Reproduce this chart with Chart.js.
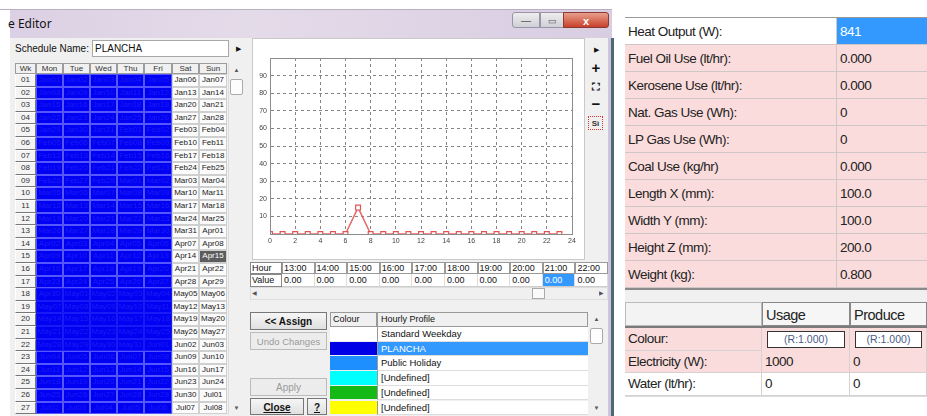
<!DOCTYPE html>
<html>
<head>
<meta charset="utf-8">
<script src="https://cdn.jsdelivr.net/npm/chart.js@4.4.1/dist/chart.umd.min.js"></script>
<style>
body{margin:0;width:927px;height:416px;overflow:hidden;background:#fff;position:relative;font-family:"Liberation Sans",Arial,sans-serif;color:#111}
.a{position:absolute;box-sizing:border-box;white-space:nowrap;overflow:hidden}
#chartBox{position:absolute;left:252px;top:38px;width:333px;height:222px;background:#fff;border:1px solid #c9c9c9;box-sizing:border-box}
#profileChart{position:absolute;left:252px;top:40px}
</style>
</head>
<body>

<!-- chart data -->
<script>
const hours = [0,1,2,3,4,5,6,7,8,9,10,11,12,13,14,15,16,17,18,19,20,21,22,23];
const profile = [0,0,0,0,0,0,0,15,0,0,0,0,0,0,0,0,0,0,0,0,0,0,0,0];
const xLabels = [0,2,4,6,8,10,12,14,16,18,20,22,24];
const yLabels = [10,20,30,40,50,60,70,80,90];
const tableHours = [13,14,15,16,17,18,19,20,21,22];
</script>

<div id="ui"></div>
<div id="chartBox"></div>
<canvas id="profileChart" width="332" height="220"></canvas>

<script>
const ui = document.getElementById("ui");

function box(x, y, w, h, css, text) {
  const d = document.createElement("div");
  d.className = "a";
  d.style.cssText = `left:${x}px;top:${y}px;width:${w}px;height:${h}px;line-height:${h}px;` + (css || "");
  if (text !== undefined) d.textContent = text;
  ui.appendChild(d);
  return d;
}

// ---- left window frame ----
box(0, 9, 612, 1, "background:#b8b0c0");
box(10, 10, 602, 28, "background:linear-gradient(90deg,#dcd0e4,#e4dbe9 40%,#d9cde2);");
box(8, 12, 80, 24, "font-family:'Noto Sans',sans-serif;font-size:12px;color:#111", "e Editor");
box(512, 12, 28, 16, "background:linear-gradient(#eee,#cfcfd8);border:1px solid #9a94a6;border-radius:3px 0 0 3px;text-align:center;font-size:10px;color:#555", "—");
box(540, 12, 24, 16, "background:linear-gradient(#eee,#cfcfd8);border:1px solid #9a94a6;text-align:center;font-size:9px;color:#555", "▭");
box(563, 12, 46, 16, "background:linear-gradient(#e8a08c,#c9402c);border:1px solid #8a3a30;border-radius:0 3px 3px 0;text-align:center;font-size:11px;color:#fff;font-weight:bold", "x");
box(10, 38, 601, 378, "background:#f0f0f0;border-right:3px solid #cfc5da");
box(611, 38, 3, 378, "background:#4a6a78");

// ---- schedule name ----
box(15, 41, 80, 16, "font-size:10px", "Schedule Name:");
box(92, 40, 137, 17, "background:#fff;border:1px solid #a8a8a8;font-size:10px;padding-left:2px;line-height:15px", "PLANCHA");
box(233, 41, 10, 16, "font-size:7px;text-align:center", "▶");

// ---- week grid ----
const colX = [15, 36, 63, 90, 117, 144, 172, 199, 227];
const heads = ["Wk", "Mon", "Tue", "Wed", "Thu", "Fri", "Sat", "Sun"];
heads.forEach((t, i) => {
  box(colX[i], 63, colX[i + 1] - colX[i], 11, "background:#f0f0f0;border:1px solid #9c9c9c;font-size:8px;text-align:center;color:#333;line-height:9px", t);
});
const months = ["Jan","Feb","Mar","Apr","May","Jun","Jul","Aug","Sep","Oct","Nov","Dec"];
const rowH = 12.6;
for (let w = 0; w < 27; w++) {
  const y = 74 + w * rowH;
  box(colX[0], y, colX[1] - colX[0], rowH, "background:#f4f4f4;border:1px solid;border-color:#fff #777 #777 #fff;font-size:8px;text-align:center;color:#333;line-height:10px", String(w + 1).padStart(2, "0"));
  for (let d = 0; d < 7; d++) {
    const dt = new Date(Date.UTC(2018, 0, 1 + w * 7 + d));
    const label = months[dt.getUTCMonth()] + String(dt.getUTCDate()).padStart(2, "0");
    const x = colX[d + 1], cw = colX[d + 2] - colX[d + 1];
    if (d < 5) {
      const merged = w >= 17 && w <= 21;
      box(x, y, cw, rowH, `background:#0000f2;border:1px solid ${merged ? "#1a1af6" : "#5656ff"};font-size:8px;text-align:center;color:#1c1cf6;line-height:10px`, label);
    } else {
      const sel = w === 14 && d === 6;
      box(x, y, cw, rowH, `background:${sel ? "#5c5c5c" : "#fbfbfb"};border:1px solid #cfcfcf;font-size:8px;text-align:center;color:${sel ? "#fff" : "#222"};line-height:10px`, label);
    }
  }
}
box(228, 63, 17, 352, "background:#f0f0f0;border-left:1px solid #ddd");
box(229, 64, 15, 12, "font-size:6px;text-align:center;color:#555", "▲");
box(230, 79, 13, 16, "background:#fdfdfd;border:1px solid #aaa;border-radius:2px");
box(229, 402, 15, 12, "font-size:6px;text-align:center;color:#555", "▼");

// ---- chart side icons + texts ----
box(590, 44, 12, 12, "font-size:7px;text-align:center", "▶");
box(588, 59, 16, 18, "font-size:15px;font-weight:bold;text-align:center", "+");
box(589, 80, 14, 14, "font-size:11px;font-weight:bold;text-align:center", "⛶");
box(588, 95, 16, 18, "font-size:15px;font-weight:bold;text-align:center", "−");
box(588, 116, 15, 14, "font-size:8px;font-weight:bold;text-align:center;color:#333;border:1px dotted #d33", "Sì");
box(256, 43, 10, 10, "font-size:7px;color:#333", "%");
box(270, 40, 150, 12, "font-size:7px;color:#333", "Hourly Operational Profile");
box(470, 40, 102, 12, "font-size:7px;color:#333;text-align:right", "PLANCHA");

// ---- hour / value grid ----
box(250, 262, 32, 12, "background:#fff;border:1px solid #888;font-size:9px;padding-left:1px;line-height:10px", "Hour");
box(250, 274, 32, 13, "background:#fff;border:1px solid #888;font-size:9px;padding-left:1px;line-height:11px", "Value");
tableHours.forEach((h, i) => {
  const x = 282 + i * 32.6;
  const w = Math.min(32.6, 608 - x);
  box(x, 262, w, 12, "background:#fff;border:1px solid #999;font-size:9px;padding-left:1px;line-height:10px", String(h).padStart(2, "0") + ":00");
  const hl = i === 8;
  box(x, 274, w, 13, `background:${hl ? "#3399ff" : "#fff"};border-right:1px solid #ddd;border-bottom:1px solid #ccc;font-size:9px;padding-left:2px;line-height:12px;color:${hl ? "#fff" : "#111"}`, profile[h].toFixed(2));
});
box(250, 287, 358, 13, "background:#f0f0f0;border:1px solid #ddd");
box(252, 287, 8, 13, "font-size:6px;color:#555;line-height:13px", "◀");
box(599, 287, 8, 13, "font-size:6px;color:#555;line-height:13px", "▶");
box(532, 288, 13, 11, "background:#fafafa;border:1px solid #aaa");

// ---- buttons ----
box(250, 312, 77, 18, "background:linear-gradient(#f6f6f6,#e0e0e0);border:1px solid #777;text-align:center;font-size:10px;font-weight:bold", "<< Assign");
box(250, 332, 77, 18, "background:#ececec;border:1px solid #bbb;text-align:center;font-size:9.5px;color:#9a9a9a", "Undo Changes");
box(250, 378, 77, 18, "background:#ececec;border:1px solid #bbb;text-align:center;font-size:10px;color:#9a9a9a", "Apply");
box(250, 398, 54, 17, "background:linear-gradient(#f6f6f6,#e0e0e0);border:1px solid #777;text-align:center;font-size:10px;font-weight:bold;text-decoration:underline", "Close");
box(307, 398, 20, 17, "background:linear-gradient(#f6f6f6,#e0e0e0);border:1px solid #777;text-align:center;font-size:10px;font-weight:bold;text-decoration:underline", "?");

// ---- profile list ----
box(330, 312, 47, 15, "background:#f0f0f0;border:1px solid #999;font-size:9px;padding-left:2px;line-height:13px", "Colour");
box(377, 312, 211, 15, "background:#f0f0f0;border:1px solid #999;font-size:9px;padding-left:3px;line-height:13px", "Hourly Profile");
const listNames = ["Standard Weekday", "PLANCHA", "Public Holiday", "[Undefined]", "[Undefined]", "[Undefined]"];
const listCols = ["#ffffff", "#0000e6", "#1e8fff", "#00ffff", "#15b915", "#ffff00"];
listNames.forEach((n, i) => {
  const y = 327 + i * 14.7;
  const sel = i === 1;
  box(330, y, 47, 14.7, `background:${listCols[i]};border-bottom:1px solid #eee`);
  box(377, y, 211, 14.7, `background:${sel ? "#3399ff" : "#fff"};border-left:1px solid #999;border-bottom:1px solid #ddd;font-size:9.5px;padding-left:3px;color:${sel ? "#fff" : "#111"}`, n);
});
box(588, 312, 17, 103, "background:#f0f0f0");
box(588, 313, 17, 12, "font-size:6px;text-align:center;color:#555", "▲");
box(590, 328, 13, 16, "background:#fdfdfd;border:1px solid #aaa;border-radius:2px");
box(588, 402, 17, 12, "font-size:6px;text-align:center;color:#555", "▼");

// ---- right property tables ----
const propNames = ["Heat Output (W):", "Fuel Oil Use (lt/hr):", "Kerosene Use (lt/hr):", "Nat. Gas Use (Wh):", "LP Gas Use (Wh):", "Coal Use (kg/hr)", "Length X (mm):", "Width Y (mm):", "Height Z (mm):", "Weight (kg):"];
const propVals = ["841", "0.000", "0.000", "0", "0", "0.000", "100.0", "100.0", "200.0", "0.800"];
const pink = "#fadcdc", fs = "font-size:13.5px;letter-spacing:-0.5px;font-family:'Liberation Sans',Arial,sans-serif;color:#222;padding-left:3px;";
propNames.forEach((n, i) => {
  const y = 18 + i * 27;
  box(625, y, 212, 27, `${fs}background:${i === 0 ? "#fff" : pink};border-bottom:1px solid #cfc6c6;border-right:1px solid #cfc6c6`, n);
  box(837, y, 90, 27, `${fs}background:${i === 0 ? "#3399ff" : pink};color:${i === 0 ? "#fff" : "#222"};border-bottom:1px solid #cfc6c6`, propVals[i]);
});
box(625, 17, 302, 1, "background:#999");
box(625, 288, 302, 2, "background:#8a8a8a");
box(625, 290, 302, 12, "background:#f0f0f0");
box(625, 302, 137, 24, "background:#f3f3f3;border:1px solid #bbb");
box(762, 302, 88, 24, fs + "background:#f6f6f6;border:1px solid #888;font-size:14.5px", "Usage");
box(850, 302, 77, 24, fs + "background:#f6f6f6;border:1px solid #888;font-size:14.5px", "Produce");
box(625, 326, 302, 2, "background:#7a7a7a");
const useNames = ["Colour:", "Electricity (W):", "Water (lt/hr):"];
const useVals = [["(R:1.000)", "(R:1.000)"], ["1000", "0"], ["0", "0"]];
useNames.forEach((n, i) => {
  const y = 328 + i * 22.5;
  const bg = i === 2 ? "#fff" : pink;
  box(625, y, 137, 22.5, `${fs}background:${bg};border-bottom:1px solid #d6d0d0;border-right:1px solid #d6d0d0`, n);
  [762, 850].forEach((x, j) => {
    const w = j === 0 ? 88 : 77;
    if (i === 0) {
      box(x, y, w, 22.5, `background:${bg};border-right:1px solid #d6d0d0`);
      box(x + 5, y + 3, w - 10, 17, "background:#fff;border:1px solid #333;font-size:10.5px;color:#4a5a8a;text-align:center;line-height:15px", useVals[i][j]);
    } else {
      box(x, y, w, 22.5, `${fs}background:${bg};border-bottom:1px solid #d6d0d0;border-right:1px solid #d6d0d0`, useVals[i][j]);
    }
  });
});
box(625, 396, 302, 1, "background:#ddd");

// ---- Chart.js profile chart ----
const frame = {
  id: "frame",
  afterDraw(chart) {
    const { ctx, chartArea: a } = chart;
    ctx.save();
    ctx.strokeStyle = "#8c8c8c";
    ctx.lineWidth = 1;
    ctx.strokeRect(Math.round(a.left) + 0.5, Math.round(a.top) + 0.5, Math.round(a.right - a.left), Math.round(a.bottom - a.top));
    ctx.restore();
  }
};

new Chart(document.getElementById("profileChart"), {
  type: "line",
  data: {
    datasets: [{
      data: hours.map((h, i) => ({ x: h, y: profile[i] })),
      borderColor: "#e86868",
      borderWidth: 1.5,
      pointStyle: "rect",
      pointRadius: 3.4,
      pointBackgroundColor: "#fff",
      pointBorderColor: "#e05454",
      pointBorderWidth: 1.2,
      tension: 0
    }]
  },
  options: {
    responsive: false,
    animation: false,
    layout: { padding: { top: 18, right: 12, left: 0, bottom: 0 } },
    plugins: { legend: { display: false }, tooltip: { enabled: false } },
    scales: {
      x: {
        type: "linear",
        min: 0,
        max: 24,
        afterFit: (s) => { s.height = 26; },
        afterBuildTicks: (s) => { s.ticks = xLabels.map((v) => ({ value: v })); },
        ticks: { font: { size: 7, family: "Liberation Sans" }, color: "#444", padding: 3, maxRotation: 0 },
        grid: { color: "#858585", lineWidth: 1, drawTicks: false },
        border: { display: true, color: "#8c8c8c", dash: [3, 3] }
      },
      y: {
        min: 0,
        max: 100,
        afterFit: (s) => { s.width = 18; },
        afterBuildTicks: (s) => { s.ticks = [0].concat(yLabels, [100]).map((v) => ({ value: v })); },
        ticks: {
          font: { size: 7, family: "Liberation Sans" },
          color: "#444",
          padding: 3,
          callback: (v) => (yLabels.includes(v) ? v : "")
        },
        grid: { color: "#858585", lineWidth: 1, drawTicks: false },
        border: { display: true, color: "#8c8c8c", dash: [3, 3] }
      }
    }
  },
  plugins: [frame]
});
</script>
</body>
</html>
